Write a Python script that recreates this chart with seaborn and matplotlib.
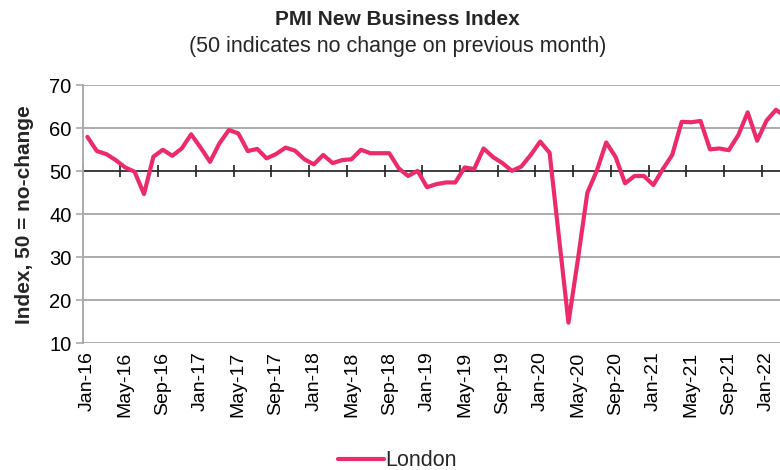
import matplotlib
matplotlib.use("Agg")
import matplotlib.pyplot as plt
import seaborn as sns
import pandas as pd
from matplotlib.lines import Line2D

# Monthly London PMI New Business Index, Jan 2016 - Mar 2022
months = pd.date_range("2016-01-01", "2022-03-01", freq="MS").strftime("%b-%y").tolist()
london = [
    58.0, 54.7, 54.0, 52.6, 50.9, 49.9, 44.7, 53.4, 55.0, 53.6, 55.3, 58.6,
    55.5, 52.2, 56.5, 59.6, 58.8, 54.7, 55.2, 53.0, 54.0, 55.5, 54.8, 52.8,
    51.6, 53.8, 51.9, 52.6, 52.8, 55.0, 54.2, 54.2, 54.2, 50.7, 48.9, 50.1,
    46.3, 47.0, 47.4, 47.4, 50.9, 50.5, 55.3, 53.3, 51.9, 50.1, 51.1, 53.8,
    56.9, 54.3, 34.5, 14.8, 29.5, 45.0, 50.1, 56.7, 53.3, 47.2, 48.9, 48.9,
    46.8, 50.5, 53.8, 61.5, 61.4, 61.7, 55.1, 55.3, 54.9, 58.4, 63.7, 57.1,
    61.8, 64.3, 62.7,
]
yticks = [10, 20, 30, 40, 50, 60, 70]

df = pd.DataFrame({"pos": range(len(months)), "month": months, "London": london})

sns.set_theme(style="white")
plt.rcParams["font.family"] = ["Liberation Sans", "DejaVu Sans"]

LINE = "#EC2A6C"
GRID = "#ABABAB"

fig = plt.figure(figsize=(7.8, 4.7), dpi=100)
ax = fig.add_axes([0.106, 0.2696, 0.907, 0.549])

for y in yticks:
    if y != 50:
        ax.axhline(y, color=GRID, lw=1.4, zorder=0)

sns.lineplot(data=df, x="pos", y="London", ax=ax, color=LINE, lw=3,
             legend=False, zorder=3)

n = len(months)
ax.set_xlim(-0.5, n - 0.5)
ax.set_ylim(10, 70)
ax.set_yticks(yticks)
ax.set_xticks(df["pos"][::4])
ax.set_xticklabels(df["month"][::4], rotation=90)

for side in ["top", "right", "bottom"]:
    ax.spines[side].set_visible(False)
ax.spines["left"].set_color(GRID)
ax.spines["left"].set_linewidth(1.4)

ax.tick_params(axis="y", which="major", direction="out", length=5, width=1.2,
               color=GRID, labelsize=14.5, pad=3, left=True, labelcolor="black")
ax.tick_params(axis="x", which="major", length=0, labelsize=14, pad=6,
               labelcolor="black")

# no-change line at 50 with category boundary ticks
sec = ax.secondary_xaxis((50 - 10) / 60)
sec.set_xticks([b - 0.5 for b in range(0, n + 1, 4)])
sec.set_xticklabels([])
sec.tick_params(direction="inout", length=9, width=1.2, color="#202020")
sec.spines["bottom"].set_color("#202020")
sec.spines["bottom"].set_linewidth(1.3)

ax.set_xlabel("")
ax.set_ylabel("Index, 50 = no-change", fontsize=15, fontweight="bold", labelpad=11)

fig.text(0.51, 0.958, "PMI New Business Index", ha="center", va="center",
         fontsize=15, fontweight="bold")
fig.text(0.51, 0.901, "(50 indicates no change on previous month)", ha="center",
         va="center", fontsize=15.5)

handle = Line2D([], [], color=LINE, lw=3)
fig.legend([handle], ["London"], loc="center", bbox_to_anchor=(0.51, 0.02),
           frameon=False, fontsize=15.5, handlelength=2.1, handletextpad=0.1)

fig.savefig("out.png", dpi=100)
